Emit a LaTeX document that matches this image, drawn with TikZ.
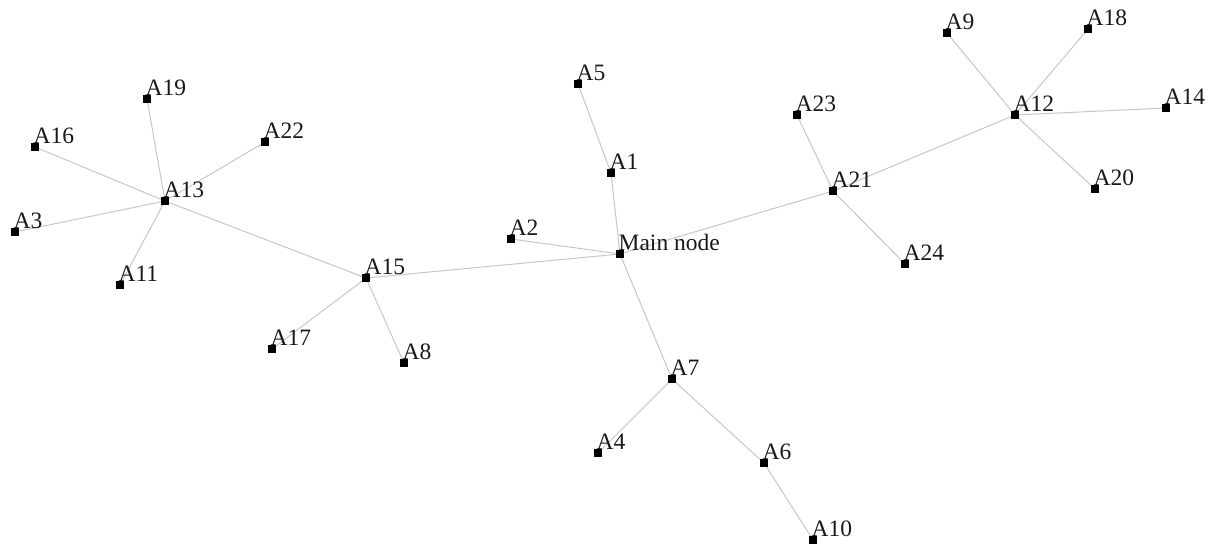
\documentclass[tikz,border=0pt]{standalone}
\usepackage{fontspec}
\setmainfont{Liberation Serif}
\usetikzlibrary{backgrounds}
\begin{document}
\begin{tikzpicture}[x=1pt,y=-1pt,
  sq/.style={rectangle, fill=black, minimum size=7.5pt, inner sep=0pt},
  lab/.style={anchor=base west, inner sep=0pt, xshift=-5.5pt, yshift=-0.5pt, font=\fontsize{23.5}{27}\selectfont, text=black!90},
  edge/.style={draw=black!22, line width=1pt}]
\useasboundingbox (0,0) rectangle (1216,544);
\newcommand\nd[3]{\node[sq, label={[lab]north east:#3}] (#1) at (#2) {};}
\nd{m}{620,254}{Main node}
\nd{a1}{611,173}{A1}
\nd{a5}{578,84}{A5}
\nd{a2}{511,239}{A2}
\nd{a15}{366,278}{A15}
\nd{a13}{165,201}{A13}
\nd{a19}{147,99}{A19}
\nd{a16}{35,147}{A16}
\nd{a22}{265,142}{A22}
\nd{a3}{15,232}{A3}
\nd{a11}{120,285}{A11}
\nd{a17}{272,349}{A17}
\nd{a8}{404,363}{A8}
\nd{a7}{672,379}{A7}
\nd{a4}{598,453}{A4}
\nd{a6}{764,463}{A6}
\nd{a10}{813,540}{A10}
\nd{a21}{833,191}{A21}
\nd{a23}{797,115}{A23}
\nd{a24}{905,264}{A24}
\nd{a12}{1015,115}{A12}
\nd{a9}{947,33}{A9}
\nd{a18}{1088,29}{A18}
\nd{a14}{1166,108}{A14}
\nd{a20}{1095,189}{A20}
\begin{scope}[on background layer]
\foreach \u/\v in {m/a1,a1/a5,m/a2,m/a15,m/a21,m/a7,a15/a13,a15/a17,a15/a8,a13/a19,a13/a16,a13/a22,a13/a3,a13/a11,a7/a4,a7/a6,a6/a10,a21/a23,a21/a24,a21/a12,a12/a9,a12/a18,a12/a14,a12/a20}
  \draw[edge] (\u.center) -- (\v.center);
\end{scope}
\end{tikzpicture}
\end{document}
